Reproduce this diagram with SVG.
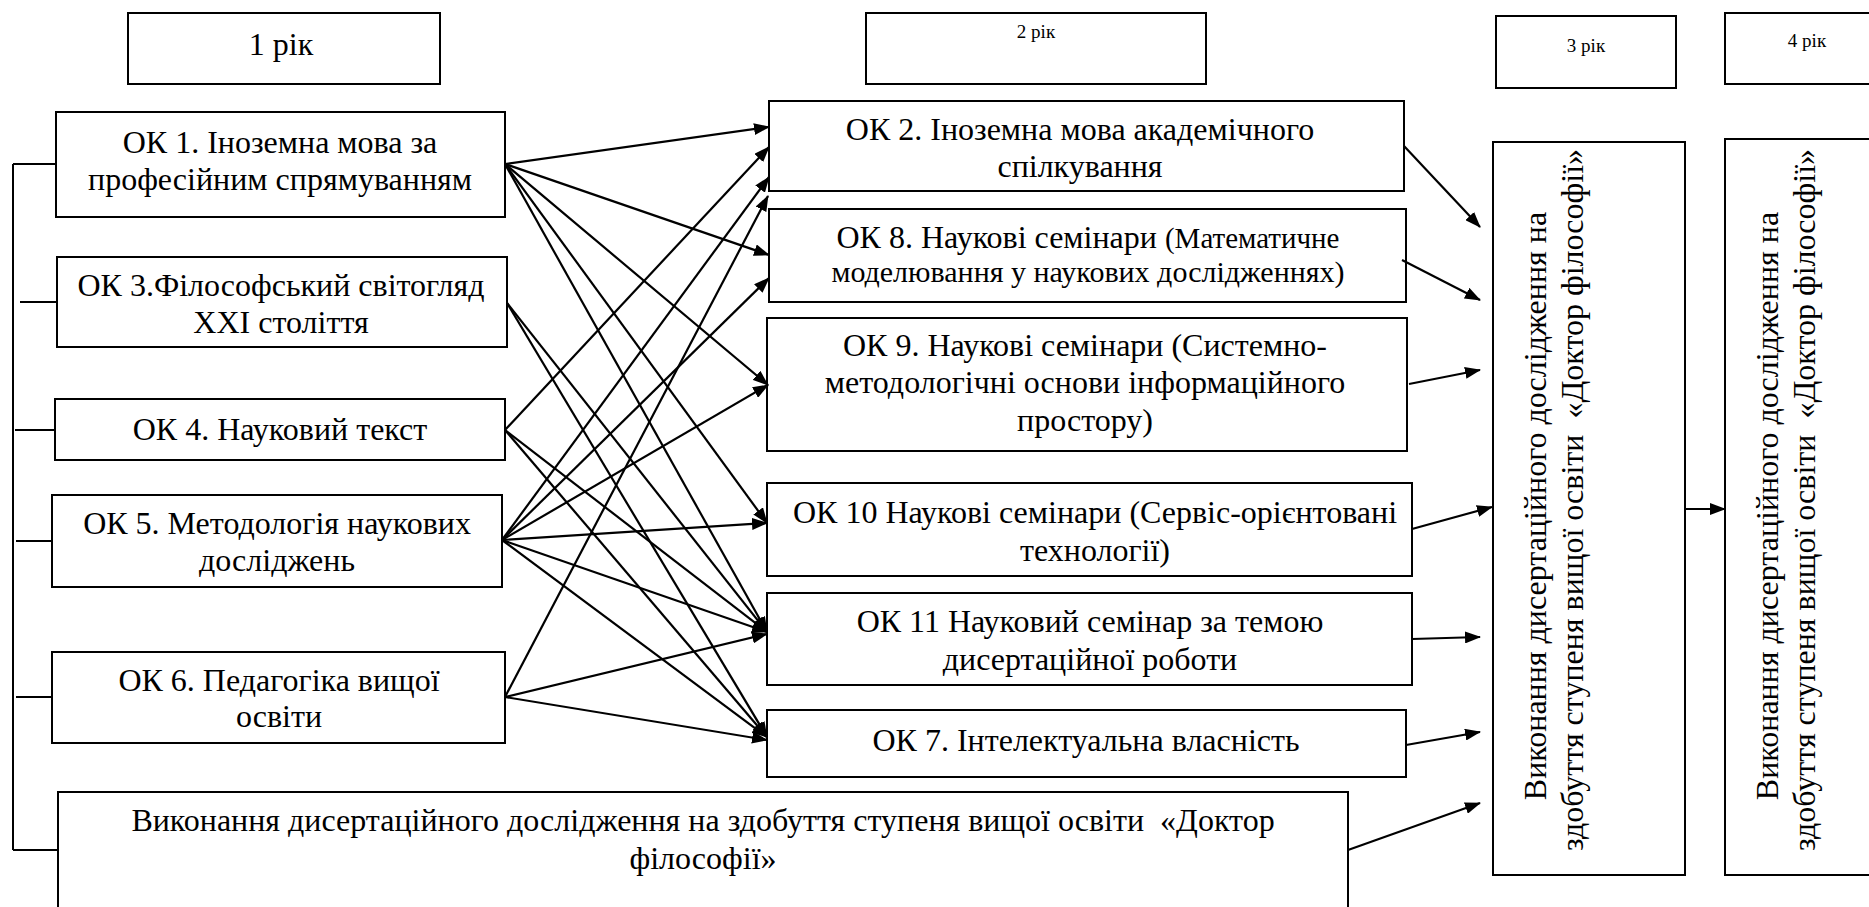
<svg xmlns="http://www.w3.org/2000/svg" width="1869" height="907" viewBox="0 0 1869 907">
<style>
.box{fill:#fff;stroke:#000;stroke-width:2}
.t{font-family:'Liberation Serif',serif;font-size:32px;fill:#000;text-anchor:middle}
.ts{font-family:'Liberation Serif',serif;font-size:19px;fill:#000;text-anchor:middle}
.ln{stroke:#000;stroke-width:2;fill:none}
.ar{stroke:#000;stroke-width:2.2;fill:none;marker-end:url(#ah)}
.pre{white-space:pre}
</style>
<defs>
<marker id="ah" markerWidth="16" markerHeight="12" refX="15" refY="6" orient="auto" markerUnits="userSpaceOnUse">
<path d="M0,0 L16,6 L0,12 z" fill="#000"/>
</marker>
</defs>
<rect width="1869" height="907" fill="#fff"/>

<g id="year1"><rect class="box" x="128" y="13" width="312" height="71"/><text class="t" x="281" y="55">1 рік</text></g>
<g id="year2"><rect class="box" x="866" y="13" width="340" height="71"/><text class="ts" x="1036" y="38">2 рік</text></g>
<g id="year3"><rect class="box" x="1496" y="16" width="180" height="72"/><text class="ts" x="1586" y="52">3 рік</text></g>
<g id="year4"><rect class="box" x="1725" y="13" width="160" height="71"/><text class="ts" x="1807" y="47">4 рік</text></g>

<g id="ok1"><rect class="box" x="56" y="112" width="449" height="105"/><text class="t" x="280" y="153">ОК 1. Іноземна мова за</text><text class="t" x="280" y="190">професійним спрямуванням</text></g>
<g id="ok3"><rect class="box" x="57" y="257" width="450" height="90"/><text class="t" x="281" y="296">ОК 3.Філософський світогляд</text><text class="t" x="281" y="333">XXI століття</text></g>
<g id="ok4"><rect class="box" x="55" y="399" width="450" height="61"/><text class="t" x="280" y="440">ОК 4. Науковий текст</text></g>
<g id="ok5"><rect class="box" x="52" y="495" width="450" height="92"/><text class="t" x="277" y="534">ОК 5. Методологія наукових</text><text class="t" x="277" y="571">досліджень</text></g>
<g id="ok6"><rect class="box" x="52" y="652" width="453" height="91"/><text class="t" x="279" y="691">ОК 6. Педагогіка вищої</text><text class="t" x="279" y="727">освіти</text></g>
<g id="thesis1"><rect class="box" x="58" y="792" width="1290" height="130"/><text class="t pre" x="703" y="831">Виконання дисертаційного дослідження на здобуття ступеня вищої освіти  «Доктор</text><text class="t" x="703" y="869">філософії»</text></g>

<g id="ok2"><rect class="box" x="769" y="101" width="635" height="90"/><text class="t" x="1080" y="140">ОК 2. Іноземна мова академічного</text><text class="t" x="1080" y="177">спілкування</text></g>
<g id="ok8"><rect class="box" x="769" y="209" width="637" height="93"/><text class="t" x="1088" y="248">ОК 8. Наукові семінари <tspan style="font-size:29px">(Математичне</tspan></text><text class="t" x="1088" y="282" style="font-size:30px">моделювання у наукових дослідженнях)</text></g>
<g id="ok9"><rect class="box" x="767" y="318" width="640" height="133"/><text class="t" x="1085" y="356">ОК 9. Наукові семінари (Системно-</text><text class="t" x="1085" y="393">методологічні основи інформаційного</text><text class="t" x="1085" y="431">простору)</text></g>
<g id="ok10"><rect class="box" x="767" y="483" width="645" height="93"/><text class="t" x="1095" y="523">ОК 10 Наукові семінари (Сервіс-орієнтовані</text><text class="t" x="1095" y="561">технології)</text></g>
<g id="ok11"><rect class="box" x="767" y="593" width="645" height="92"/><text class="t" x="1090" y="632">ОК 11 Науковий семінар за темою</text><text class="t" x="1090" y="670">дисертаційної роботи</text></g>
<g id="ok7"><rect class="box" x="767" y="710" width="639" height="67"/><text class="t" x="1086" y="751">ОК 7. Інтелектуальна власність</text></g>

<g id="thesis3"><rect class="box" x="1493" y="142" width="192" height="733"/><text class="t" transform="translate(1546,506) rotate(-90)">Виконання дисертаційного дослідження на</text><text class="t pre" transform="translate(1583,500) rotate(-90)">здобуття ступеня вищої освіти  «Доктор філософії»</text></g>
<g id="thesis4"><rect class="box" x="1725" y="139" width="160" height="736"/><text class="t" transform="translate(1778,506) rotate(-90)">Виконання дисертаційного дослідження на</text><text class="t pre" transform="translate(1815,500) rotate(-90)">здобуття ступеня вищої освіти  «Доктор філософії»</text></g>

<g id="connectors">
<path class="ln" d="M13,164 V850 M13,164 H56 M20,302 H57 M15,430 H55 M16,541 H52 M16,697 H52 M13,850 H58"/>
<line class="ar" x1="505" y1="164" x2="769" y2="127"/>
<line class="ar" x1="505" y1="164" x2="769" y2="255"/>
<line class="ar" x1="505" y1="164" x2="768" y2="385"/>
<line class="ar" x1="505" y1="164" x2="767" y2="523"/>
<line class="ar" x1="505" y1="164" x2="767" y2="632"/>
<line class="ar" x1="507" y1="303" x2="767" y2="632"/>
<line class="ar" x1="507" y1="303" x2="767" y2="737"/>
<line class="ar" x1="505" y1="430" x2="769" y2="147"/>
<line class="ar" x1="505" y1="430" x2="767" y2="632"/>
<line class="ar" x1="505" y1="430" x2="767" y2="737"/>
<line class="ar" x1="502" y1="540" x2="769" y2="177"/>
<line class="ar" x1="502" y1="540" x2="769" y2="278"/>
<line class="ar" x1="502" y1="540" x2="768" y2="385"/>
<line class="ar" x1="502" y1="540" x2="767" y2="523"/>
<line class="ar" x1="502" y1="540" x2="767" y2="632"/>
<line class="ar" x1="502" y1="540" x2="767" y2="737"/>
<line class="ar" x1="505" y1="697" x2="768" y2="196"/>
<line class="ar" x1="505" y1="697" x2="767" y2="634"/>
<line class="ar" x1="505" y1="697" x2="767" y2="740"/>
<line class="ar" x1="1404" y1="146" x2="1480" y2="227"/>
<line class="ar" x1="1402" y1="260" x2="1480" y2="300"/>
<line class="ar" x1="1409" y1="384" x2="1480" y2="370"/>
<line class="ar" x1="1412" y1="529" x2="1492" y2="507"/>
<line class="ar" x1="1412" y1="639" x2="1480" y2="637"/>
<line class="ar" x1="1406" y1="745" x2="1480" y2="732"/>
<line class="ar" x1="1348" y1="850" x2="1480" y2="803"/>
<line class="ar" x1="1685" y1="509" x2="1725" y2="509"/>
</g>
</svg>
